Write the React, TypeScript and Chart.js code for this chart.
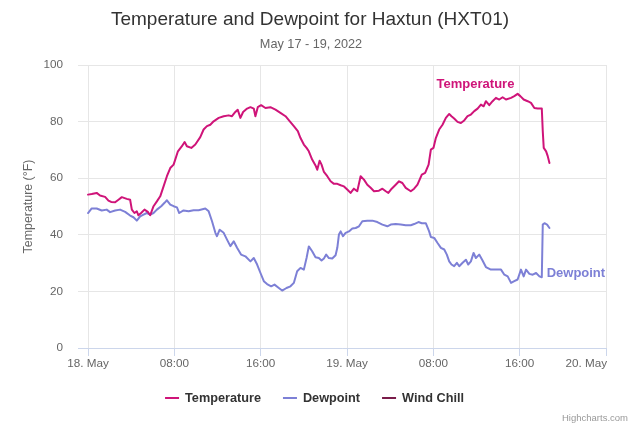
import React, { useEffect, useRef } from 'react';
import { Chart, registerables } from 'chart.js';

Chart.register(...registerables);

const FONT = "'Liberation Sans', Arial, Helvetica, sans-serif";

const titleText = 'Temperature and Dewpoint for Haxtun (HXT01)';
const subtitleText = 'May 17 - 19, 2022';
const yAxisTitle = 'Temperature (°F)';
const creditsText = 'Highcharts.com';

const seriesNames = ['Temperature', 'Dewpoint', 'Wind Chill'];
const seriesColors = ['#cf1479', '#7d80d6', '#7a1c4a'];

// hours since 18 May 2022 00:00
const xMin = -0.93;
const xMax = 48;
const xTickValues = [0, 8, 16, 24, 32, 40, 48];
const xTickLabels = ['18. May', '08:00', '16:00', '19. May', '08:00', '16:00', '20. May'];
const yTickValues = [0, 20, 40, 60, 80, 100];

const tempHours = [
  0, 0.34, 0.8, 1.11, 1.58, 1.89, 2.14, 2.51, 2.82, 3.13, 3.59, 3.9,
  4.06, 4.3, 4.52, 4.67, 4.92, 5.23, 5.54, 5.76, 6.07, 6.38, 6.69, 7.0,
  7.31, 7.62, 7.93, 8.33, 8.7, 8.95, 9.16, 9.57, 9.94, 10.4, 10.71, 11.02,
  11.33, 11.64, 12.11, 12.57, 13.03, 13.34, 13.65, 13.87, 14.12, 14.37, 14.74, 15.05,
  15.36, 15.51, 15.73, 16.04, 16.44, 16.9, 17.37, 17.83, 18.3, 18.7, 19.07, 19.44,
  19.69, 20.0, 20.25, 20.46, 20.77, 21.08, 21.24, 21.46, 21.64, 21.86, 22.17, 22.48,
  22.79, 23.1, 23.41, 23.72, 24.02, 24.33, 24.64, 24.95, 25.26, 25.57, 25.88, 26.19,
  26.5, 26.96, 27.28, 27.59, 27.83, 28.14, 28.51, 28.82, 29.13, 29.44, 29.91, 30.22,
  30.53, 30.93, 31.24, 31.56, 31.77, 32.01, 32.23, 32.54, 32.85, 33.16, 33.47, 33.68,
  33.93, 34.24, 34.55, 34.86, 35.17, 35.48, 35.79, 36.1, 36.41, 36.66, 36.87, 37.18,
  37.49, 37.8, 38.11, 38.42, 38.73, 39.2, 39.5, 39.81, 40.06, 40.37, 40.74, 41.05,
  41.36, 41.67, 42.05, 42.14, 42.23, 42.45, 42.6, 42.76,
];
const tempValues = [
  54.2, 54.4, 54.8, 53.9, 53.4, 52.1, 51.6, 51.5, 52.4, 53.3, 52.7, 52.4,
  48.9, 47.7, 48.3, 46.9, 47.7, 48.9, 48.1, 46.9, 50.1, 51.8, 53.6, 57.1,
  60.7, 63.6, 64.8, 69.5, 71.3, 72.8, 71.3, 70.7, 71.9, 74.5, 77.2, 78.4,
  78.9, 80.1, 81.3, 81.9, 82.2, 81.9, 83.4, 84.2, 81.3, 83.4, 84.6, 85.1,
  84.6, 81.9, 85.1, 85.8, 84.8, 85.1, 84.2, 83.1, 81.9, 80.1, 78.4, 76.6,
  74.2, 71.9, 70.7, 69.5, 66.6, 64.5, 63.0, 66.2, 64.8, 62.2, 60.7, 58.9,
  58.0, 58.0, 57.5, 57.1, 56.0, 54.8, 56.3, 55.4, 60.7, 59.5, 57.7, 56.6,
  55.4, 55.6, 56.3, 55.4, 54.8, 56.3, 57.7, 58.9, 58.3, 56.6, 55.4, 56.3,
  57.7, 61.3, 61.9, 64.8, 70.1, 70.7, 74.2, 77.2, 78.9, 81.3, 82.7, 81.9,
  81.1, 79.9, 79.5, 80.4, 81.9, 82.5, 83.7, 84.6, 86.0, 85.4, 87.2, 85.8,
  87.2, 88.4, 87.8, 88.6, 87.8, 88.4, 89.0, 89.8, 89.0, 87.8, 87.2, 86.6,
  84.8, 84.6, 84.6, 76.6, 70.7, 69.5, 67.8, 65.4,
];

const dewHours = [
  0, 0.34, 0.8, 1.27, 1.73, 2.04, 2.51, 2.97, 3.44, 3.9, 4.21, 4.52,
  4.83, 5.14, 5.45, 5.76, 6.07, 6.38, 6.78, 7.09, 7.31, 7.62, 7.93, 8.24,
  8.45, 8.85, 9.32, 9.78, 10.25, 10.87, 11.18, 11.49, 11.8, 11.95, 12.2, 12.57,
  12.88, 13.19, 13.5, 13.81, 14.18, 14.58, 15.05, 15.36, 15.67, 15.98, 16.29, 16.59,
  16.97, 17.28, 17.68, 17.99, 18.39, 18.76, 19.07, 19.38, 19.69, 20.0, 20.25, 20.46,
  20.77, 21.08, 21.39, 21.64, 21.86, 22.07, 22.32, 22.63, 22.94, 23.1, 23.25, 23.41,
  23.63, 23.87, 24.18, 24.49, 24.8, 25.11, 25.42, 25.88, 26.35, 26.81, 27.28, 27.74,
  28.05, 28.51, 28.98, 29.44, 29.91, 30.22, 30.62, 30.93, 31.3, 31.61, 31.77, 32.08,
  32.39, 32.7, 33.01, 33.25, 33.47, 33.68, 33.93, 34.18, 34.4, 34.71, 35.02, 35.23,
  35.48, 35.73, 35.94, 36.25, 36.56, 36.87, 37.33, 37.8, 38.27, 38.58, 38.89, 39.2,
  39.5, 39.81, 40.12, 40.37, 40.59, 40.9, 41.21, 41.52, 41.83, 42.05, 42.14, 42.3,
  42.54, 42.76,
];
const dewValues = [
  47.7, 49.3, 49.3, 48.6, 48.9, 48.0, 48.6, 48.9, 48.1, 46.8, 46.2, 45.0,
  46.5, 47.1, 47.7, 47.1, 47.7, 48.9, 50.1, 51.3, 52.2, 50.7, 50.1, 49.7,
  47.7, 48.6, 48.3, 48.7, 48.7, 49.3, 48.3, 44.8, 40.7, 39.5, 41.8, 40.7,
  38.3, 36.0, 37.7, 35.4, 33.0, 32.4, 30.6, 31.8, 29.5, 26.5, 23.6, 22.6,
  21.8, 22.4, 21.2, 20.3, 21.2, 21.8, 23.0, 27.1, 28.3, 27.7, 31.8, 35.9,
  34.2, 32.1, 31.8, 30.9, 31.6, 33.0, 31.8, 31.6, 32.8, 35.4, 40.1, 41.2,
  39.5, 40.7, 41.2, 42.2, 42.4, 43.0, 44.8, 45.0, 45.0, 44.5, 43.6, 43.0,
  43.6, 43.8, 43.6, 43.4, 43.4, 43.8, 44.5, 44.1, 44.1, 41.2, 39.2, 38.9,
  37.1, 35.4, 34.8, 33.0, 30.6, 29.5, 28.9, 30.1, 28.9, 30.1, 31.2, 29.5,
  30.6, 33.6, 31.8, 33.0, 30.9, 28.6, 27.7, 27.7, 27.7, 25.9, 25.3, 23.0,
  23.6, 24.2, 27.7, 25.3, 27.7, 26.2, 25.9, 26.5, 25.3, 25.0, 43.6, 44.1,
  43.6, 42.4,
];

const windChillHours: number[] = [];
const windChillValues: number[] = [];

// series label anchors (hour, value) — left edge, vertical middle
const seriesLabelHours = [32.3, 42.5];
const seriesLabelValues = [93.3, 26.5];

const toPoints = (xs: number[], ys: number[]) => xs.map((x, i) => ({ x, y: ys[i] }));

const decorPlugin = {
  id: 'decor',
  afterDraw(chart: any) {
    const { ctx } = chart;
    const xs = chart.scales.x;
    const ys = chart.scales.y;
    ctx.save();
    ctx.textBaseline = 'middle';

    // title & subtitle
    ctx.fillStyle = '#333333';
    ctx.font = `19px ${FONT}`;
    ctx.textAlign = 'center';
    ctx.fillText(titleText, 310, 20);
    ctx.fillStyle = '#666666';
    ctx.font = `12.7px ${FONT}`;
    ctx.fillText(subtitleText, 311, 44);

    // x tick labels
    ctx.font = `11.7px ${FONT}`;
    ctx.fillStyle = '#666666';
    xTickValues.forEach((v, i) => {
      const px = xs.getPixelForValue(v);
      ctx.textAlign = i === xTickValues.length - 1 ? 'right' : 'center';
      ctx.fillText(xTickLabels[i], px + (i === xTickValues.length - 1 ? 1 : 0), 364);
    });

    // series labels
    ctx.font = `bold 13px ${FONT}`;
    ctx.textAlign = 'left';
    seriesLabelHours.forEach((h, i) => {
      ctx.fillStyle = seriesColors[i];
      ctx.fillText(seriesNames[i], xs.getPixelForValue(h), ys.getPixelForValue(seriesLabelValues[i]));
    });

    // legend
    ctx.font = `bold 12.7px ${FONT}`;
    const symW = 14;
    const symGap = 6;
    const itemGap = 22;
    const widths = seriesNames.map((n) => symW + symGap + ctx.measureText(n).width);
    const total = widths.reduce((a, b) => a + b, 0) + itemGap * (widths.length - 1);
    let lx = 314.5 - total / 2;
    const ly = 398;
    seriesNames.forEach((n, i) => {
      ctx.fillStyle = seriesColors[i];
      ctx.fillRect(lx, ly - 1, symW, 2);
      ctx.fillStyle = '#333333';
      ctx.textAlign = 'left';
      ctx.fillText(n, lx + symW + symGap, ly);
      lx += widths[i] + itemGap;
    });

    // credits
    ctx.font = `9.5px ${FONT}`;
    ctx.fillStyle = '#999999';
    ctx.textAlign = 'right';
    ctx.fillText(creditsText, 628, 418);
    ctx.restore();
  },
};

export default function App() {
  const canvasRef = useRef<HTMLCanvasElement | null>(null);

  useEffect(() => {
    if (!canvasRef.current) return;
    Chart.defaults.font.family = FONT;
    const chart = new Chart(canvasRef.current, {
      type: 'line',
      data: {
        datasets: [
          { label: seriesNames[0], data: toPoints(tempHours, tempValues), borderColor: seriesColors[0], backgroundColor: seriesColors[0] },
          { label: seriesNames[1], data: toPoints(dewHours, dewValues), borderColor: seriesColors[1], backgroundColor: seriesColors[1] },
          { label: seriesNames[2], data: toPoints(windChillHours, windChillValues), borderColor: seriesColors[2], backgroundColor: seriesColors[2] },
        ],
      },
      options: {
        animation: false,
        responsive: true,
        maintainAspectRatio: false,
        devicePixelRatio: 1,
        layout: { padding: { top: 65, right: 34, left: 0, bottom: 0 } },
        elements: {
          line: { borderWidth: 2, tension: 0, fill: false, borderJoinStyle: 'round', borderCapStyle: 'round' },
          point: { radius: 0, hoverRadius: 0 },
        },
        plugins: {
          legend: { display: false },
          title: { display: false },
          tooltip: { enabled: false },
        },
        scales: {
          x: {
            type: 'linear',
            min: xMin,
            max: xMax,
            afterBuildTicks: (s: any) => {
              s.ticks = xTickValues.map((v) => ({ value: v }));
            },
            afterFit: (s: any) => {
              s.height = 79;
            },
            ticks: { display: false },
            grid: { color: '#e6e6e6', tickColor: '#ccd6eb', drawTicks: true, tickLength: 8, lineWidth: 1 },
            border: { display: true, color: '#ccd6eb', width: 1 },
          },
          y: {
            type: 'linear',
            min: 0,
            max: 100,
            afterBuildTicks: (s: any) => {
              s.ticks = yTickValues.map((v) => ({ value: v }));
            },
            afterFit: (s: any) => {
              s.width = 78;
            },
            ticks: { padding: 15, color: '#666666', font: { size: 11.7, family: FONT } },
            grid: { color: '#e6e6e6', drawTicks: false, lineWidth: 1 },
            border: { display: false },
            title: {
              display: true,
              text: yAxisTitle,
              color: '#666666',
              font: { size: 12.4, family: FONT },
              padding: { top: 21.5, bottom: 0 },
            },
          },
        },
      },
      plugins: [decorPlugin],
    });
    return () => chart.destroy();
  }, []);

  return (
    <div style={{ position: 'absolute', left: 0, top: 0, width: 640, height: 427, background: '#ffffff' }}>
      <canvas ref={canvasRef} />
    </div>
  );
}
